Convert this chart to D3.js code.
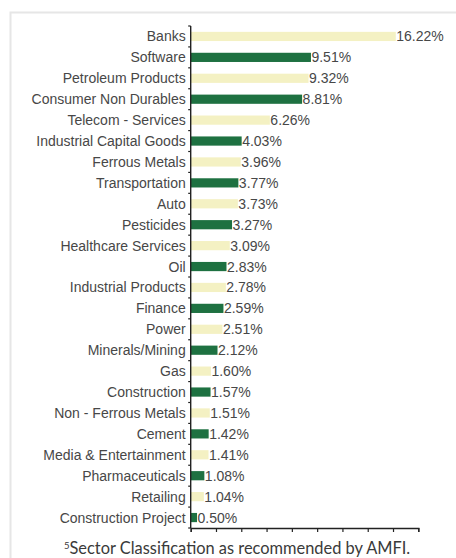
<!DOCTYPE html>
<html>
<head>
<meta charset="utf-8">
<script src="https://cdn.jsdelivr.net/npm/d3@7"></script>
<style>
  html, body { margin: 0; padding: 0; background: #ffffff; }
  svg { display: block; }
</style>
</head>
<body>
<svg id="chart" width="456" height="558"></svg>
<script>
// Sector allocation (% of net assets)
const sectors = [
  "Banks", "Software", "Petroleum Products", "Consumer Non Durables",
  "Telecom - Services", "Industrial Capital Goods", "Ferrous Metals",
  "Transportation", "Auto", "Pesticides", "Healthcare Services", "Oil",
  "Industrial Products", "Finance", "Power", "Minerals/Mining", "Gas",
  "Construction", "Non - Ferrous Metals", "Cement", "Media & Entertainment",
  "Pharmaceuticals", "Retailing", "Construction Project"
];
const weights = [
  16.22, 9.51, 9.32, 8.81, 6.26, 4.03, 3.96, 3.77, 3.73, 3.27, 3.09, 2.83,
  2.78, 2.59, 2.51, 2.12, 1.60, 1.57, 1.51, 1.42, 1.41, 1.08, 1.04, 0.50
];
const xTicks = [0, 2, 4, 6, 8, 10, 12, 14, 16, 18];
const footnote = "Sector Classification as recommended by AMFI.";
const footnoteMark = "5";

const palette = ["#f4f1c3", "#1e7141"];
const labelFont = "'Liberation Sans', Arial, Helvetica, sans-serif";

const svg = d3.select("#chart");

// frame around the panel
svg.append("rect")
  .attr("x", 10.5).attr("y", 12.5)
  .attr("width", 460).attr("height", 560)
  .attr("fill", "none")
  .attr("stroke", "#e6e6e6")
  .attr("stroke-width", 2);

const x = d3.scaleLinear().domain([0, 18]).range([190.7, 418.3]);
const y = d3.scaleBand().domain(sectors).range([26, 528]).paddingInner(0.56).paddingOuter(0.28);

// bars
svg.append("g").selectAll("rect")
  .data(sectors)
  .join("rect")
  .attr("x", x(0))
  .attr("y", d => y(d))
  .attr("width", (d, i) => x(weights[i]) - x(0))
  .attr("height", y.bandwidth())
  .attr("fill", (d, i) => palette[i % 2]);

// value labels
svg.append("g").selectAll("text")
  .data(sectors)
  .join("text")
  .attr("x", (d, i) => x(weights[i]) + 0.5)
  .attr("y", d => y(d) + y.bandwidth() / 2)
  .attr("dy", "0.36em")
  .attr("font-family", labelFont)
  .attr("font-size", 14)
  .attr("fill", "#474747")
  .text((d, i) => weights[i].toFixed(2) + "%");

// category axis
const yAxis = svg.append("g")
  .attr("transform", `translate(${x(0)},0)`);
yAxis.append("line")
  .attr("x1", 0).attr("x2", 0)
  .attr("y1", 26).attr("y2", 528)
  .attr("stroke", "#222").attr("stroke-width", 1.4);
const bounds = d3.range(sectors.length + 1).map(i => 26 + i * (528 - 26) / sectors.length);
yAxis.selectAll("line.tick")
  .data(bounds)
  .join("line")
  .attr("class", "tick")
  .attr("x1", -2.5).attr("x2", 0)
  .attr("y1", d => d).attr("y2", d => d)
  .attr("stroke", "#222").attr("stroke-width", 1.2);
yAxis.selectAll("text")
  .data(sectors)
  .join("text")
  .attr("x", -5)
  .attr("y", d => y(d) + y.bandwidth() / 2)
  .attr("dy", "0.36em")
  .attr("text-anchor", "end")
  .attr("font-family", labelFont)
  .attr("font-size", 14)
  .attr("fill", "#474747")
  .text(d => d);

// value axis (ticks only)
svg.append("g")
  .attr("transform", "translate(0,528)")
  .call(d3.axisBottom(x).tickValues(xTicks).tickSize(4).tickFormat(""))
  .call(g => g.select(".domain").attr("stroke", "#222").attr("stroke-width", 1.4))
  .call(g => g.selectAll(".tick line").attr("stroke", "#222").attr("stroke-width", 1.2));

// footnote
const note = svg.append("text")
  .attr("x", 64)
  .attr("y", 554)
  .attr("font-family", "Lato, 'Open Sans', sans-serif")
  .attr("font-size", 16.4)
  .attr("fill", "#3a3a3a");
note.append("tspan")
  .attr("font-size", 9.5)
  .attr("dy", -5)
  .text(footnoteMark);
note.append("tspan")
  .attr("dy", 5)
  .text(footnote);
</script>
</body>
</html>
